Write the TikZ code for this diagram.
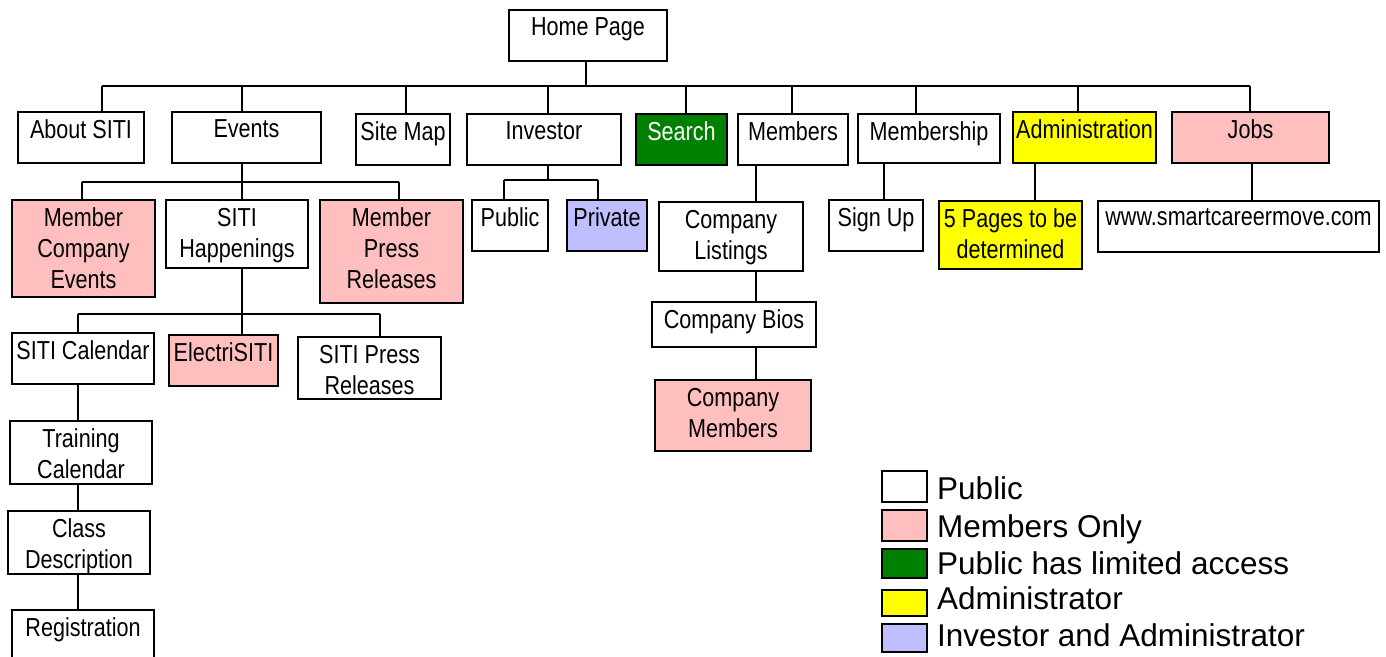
\documentclass[tikz,border=0pt]{standalone}
\usepackage{fontspec}
\setmainfont{Liberation Sans}
\newfontfamily\narrowfont[FakeStretch=0.83]{Liberation Sans}
\definecolor{pinkm}{RGB}{255,191,191}
\definecolor{greenp}{RGB}{0,128,0}
\definecolor{yellowa}{RGB}{255,255,0}
\definecolor{lavi}{RGB}{191,191,255}
\tikzset{
  boxsty/.style={draw=black,line width=1.8pt,rectangle,inner sep=0pt,outer sep=0pt,fill=white},
  txt/.style={inner xsep=0pt,inner ysep=8pt,outer sep=0pt,align=center,font=\narrowfont\fontsize{26}{31}\selectfont},
  memb/.style={fill=pinkm},
  limg/.style={fill=greenp},
  admn/.style={fill=yellowa},
  invs/.style={fill=lavi},
  conn/.style={draw=black,line width=1.8pt},
  legtxt/.style={anchor=base west,inner sep=0pt,font=\fontsize{31.5}{36}\selectfont},
}
\newcommand\mybox[7]{%
  \node[boxsty,#6,minimum width={#4-#2},minimum height={#5-#3}] (#1) at ({(#2+#4)/2},{(#3+#5)/2}) {};
  \node[txt,anchor=north] (#1t) at (#1.north) {#7};}
\begin{document}
\begin{tikzpicture}[x=1pt,y=-1pt]
\useasboundingbox[fill=white] (0,0) rectangle (1386,656);
% boxes
\mybox{home}{509}{10}{667}{61}{}{Home Page}
\mybox{about}{18}{112}{144}{163}{}{About SITI}
\mybox{events}{172}{112}{321}{163}{}{Events}
\mybox{sitemap}{356}{114}{450}{165}{}{Site Map}
\mybox{investor}{467}{114}{621}{165}{}{Investor}
\mybox{search}{636}{114}{727}{165}{limg}{\textcolor{white}{Search}}
\mybox{members}{738}{114}{848}{165}{}{Members}
\mybox{membership}{858}{114}{1000}{163}{}{Membership}
\mybox{admin}{1013}{112}{1156}{163}{admn}{Administration}
\mybox{jobs}{1172}{112}{1329}{163}{memb}{Jobs}
\mybox{mce}{12}{200}{155}{297}{memb}{Member\\Company\\Events}
\mybox{happen}{166}{200}{308}{268}{}{SITI\\Happenings}
\mybox{mpr}{320}{200}{463}{303}{memb}{Member\\Press\\Releases}
\mybox{public}{472}{200}{548}{251}{}{Public}
\mybox{private}{567}{200}{647}{251}{invs}{Private}
\mybox{listings}{659}{202}{803}{271}{}{Company\\Listings}
\mybox{signup}{829}{200}{923}{251}{}{Sign Up}
\mybox{fivep}{939}{201}{1082}{269}{admn}{5 Pages to be\\determined}
\mybox{www}{1098}{201}{1379}{252}{}{www.smartcareermove.com}
\mybox{sitical}{12}{333}{154}{384}{}{SITI Calendar}
\mybox{electri}{169}{335}{278}{386}{memb}{ElectriSITI}
\mybox{sitipr}{298}{337}{441}{399}{}{SITI Press\\Releases}
\mybox{bios}{652}{302}{816}{347}{}{Company Bios}
\mybox{cmembers}{655}{380}{811}{451}{memb}{Company\\Members}
\mybox{training}{10}{421}{152}{484}{}{Training\\Calendar}
\mybox{classd}{8}{511}{150}{574}{}{Class\\Description}
\mybox{regist}{12}{610}{154}{672}{}{Registration}
% bus coordinates
\coordinate (bH) at (586,86);
\coordinate (bA) at (102,86);
\coordinate (bE) at (242,86);
\coordinate (bS) at (406,86);
\coordinate (bI) at (548,86);
\coordinate (bR) at (686,86);
\coordinate (bM) at (792,86);
\coordinate (bP) at (916,86);
\coordinate (bD) at (1078,86);
\coordinate (bJ) at (1250,86);
\coordinate (eL) at (82,182);
\coordinate (eC) at (242,182);
\coordinate (eR) at (399,182);
\coordinate (hL) at (78,314);
\coordinate (hC) at (242,314);
\coordinate (hR) at (380,314);
\coordinate (iL) at (504,180);
\coordinate (iC) at (548,180);
\coordinate (iR) at (598,180);
\coordinate (mX) at (756,0);
\coordinate (pX) at (884,0);
\coordinate (dX) at (1035,0);
\coordinate (jX) at (1252,0);
\coordinate (cX) at (78,0);
% connectors
\draw[conn] (home.south -| bH) -- (bH);
\draw[conn] (bA) -- (bJ);
\draw[conn] (bA) -- (bA |- about.north);
\draw[conn] (bE) -- (bE |- events.north);
\draw[conn] (bS) -- (bS |- sitemap.north);
\draw[conn] (bI) -- (bI |- investor.north);
\draw[conn] (bR) -- (bR |- search.north);
\draw[conn] (bM) -- (bM |- members.north);
\draw[conn] (bP) -- (bP |- membership.north);
\draw[conn] (bD) -- (bD |- admin.north);
\draw[conn] (bJ) -- (bJ |- jobs.north);
\draw[conn] (events.south -| eC) -- (eC);
\draw[conn] (eL) -- (eR);
\draw[conn] (eL) -- (eL |- mce.north);
\draw[conn] (eC) -- (eC |- happen.north);
\draw[conn] (eR) -- (eR |- mpr.north);
\draw[conn] (happen.south -| hC) -- (hC);
\draw[conn] (hL) -- (hR);
\draw[conn] (hL) -- (hL |- sitical.north);
\draw[conn] (hC) -- (hC |- electri.north);
\draw[conn] (hR) -- (hR |- sitipr.north);
\draw[conn] (investor.south -| iC) -- (iC);
\draw[conn] (iL) -- (iR);
\draw[conn] (iL) -- (iL |- public.north);
\draw[conn] (iR) -- (iR |- private.north);
\draw[conn] (sitical.south -| cX) -- (training.north -| cX);
\draw[conn] (training.south -| cX) -- (classd.north -| cX);
\draw[conn] (classd.south -| cX) -- (regist.north -| cX);
\draw[conn] (members.south -| mX) -- (listings.north -| mX);
\draw[conn] (listings.south -| mX) -- (bios.north -| mX);
\draw[conn] (bios.south -| mX) -- (cmembers.north -| mX);
\draw[conn] (membership.south -| pX) -- (signup.north -| pX);
\draw[conn] (admin.south -| dX) -- (fivep.north -| dX);
\draw[conn] (jobs.south -| jX) -- (www.north -| jX);
% legend
\node[boxsty,minimum width=45,minimum height=31] (l1) at (904.5,486.5) {};
\node[boxsty,memb,minimum width=45,minimum height=31] (l2) at (904.5,525.5) {};
\node[boxsty,limg,minimum width=45,minimum height=29] (l3) at (904.5,563.5) {};
\node[boxsty,admn,minimum width=45,minimum height=26] (l4) at (904.5,603) {};
\node[boxsty,invs,minimum width=45,minimum height=28] (l5) at (904.5,638) {};
\node[legtxt] (t1) at (937,499) {Public};
\node[legtxt] (t2) at (937,537) {Members Only};
\node[legtxt] (t3) at (937,574) {Public has limited access};
\node[legtxt] (t4) at (937,609) {Administrator};
\node[legtxt] (t5) at (937,646) {Investor and Administrator};
\end{tikzpicture}
\end{document}
